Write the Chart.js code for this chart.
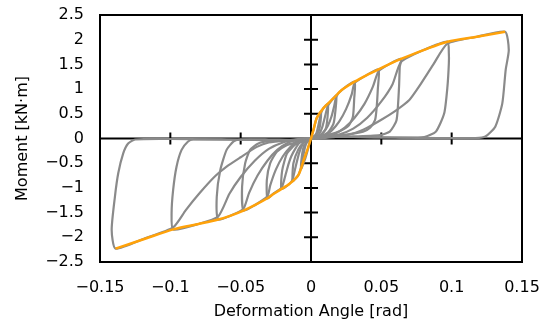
<!DOCTYPE html>
<html>
<head>
<meta charset="utf-8">
<script src="https://cdn.jsdelivr.net/npm/chart.js@4.4.1/dist/chart.umd.min.js"></script>
<style>
  html, body { margin: 0; padding: 0; background: #fff; }
  #wrap { width: 544px; height: 329px; }
</style>
</head>
<body>
<div id="wrap"><canvas id="momentChart" width="544" height="329"></canvas></div>
<script>
/* --- Axis config --- */
const X_MIN = -0.15, X_MAX = 0.15, X_STEP = 0.05;
const Y_MIN = -2.5, Y_MAX = 2.5, Y_STEP = 0.5;
const X_TITLE = 'Deformation Angle [rad]';
const Y_TITLE = 'Moment [kN·m]';
const FONT = 'DejaVu Sans';
const FONT_SIZE = 16;

/* --- Hysteresis loops [angle, moment] --- */
const loop1 = [
  [0,0],[0.002,0.2],[0.004,0.41],[0.007,0.54],
  [0.0068,0.35],[0.0055,0.15],[0.003,0.06],[0,0.02],
  [-0.002,-0.2],[-0.0045,-0.44],[-0.007,-0.61],
  [-0.0066,-0.38],[-0.005,-0.15],[-0.002,-0.04],[0,0]
];
const loop2 = [
  [0,0],[0.002,0.03],[0.004,0.12],[0.0055,0.3],[0.007,0.5],[0.0087,0.61],[0.012,0.70],
  [0.0118,0.45],[0.0105,0.2],[0.007,0.07],[0.003,0.03],[0,0.01],
  [-0.002,-0.04],[-0.004,-0.15],[-0.0055,-0.35],[-0.007,-0.57],[-0.009,-0.74],[-0.013,-0.86],
  [-0.0125,-0.5],[-0.009,-0.22],[-0.005,-0.07],[-0.002,-0.03],[0,0]
];
const loop3 = [
  [0,0],[0.003,0.03],[0.006,0.1],[0.008,0.23],[0.010,0.45],[0.012,0.66],[0.0158,0.81],[0.018,0.87],
  [0.0175,0.6],[0.016,0.3],[0.012,0.12],[0.007,0.05],[0.002,0.03],[0,0.01],
  [-0.003,-0.03],[-0.006,-0.12],[-0.0085,-0.3],[-0.011,-0.58],[-0.013,-0.82],[-0.015,-0.91],[-0.021,-1.02],
  [-0.0205,-0.65],[-0.017,-0.3],[-0.011,-0.12],[-0.005,-0.05],[0,-0.01]
];
const loop4 = [
  [0,-0.01],[0.003,0.01],[0.006,0.05],[0.009,0.13],[0.012,0.26],[0.0145,0.44],[0.0165,0.66],[0.018,0.85],[0.0218,0.98],[0.031,1.15],
  [0.0307,0.8],[0.0298,0.44],[0.027,0.27],[0.0206,0.15],[0.013,0.08],[0.005,0.04],[0,0.01],
  [-0.004,-0.02],[-0.008,-0.08],[-0.011,-0.2],[-0.014,-0.36],[-0.016,-0.52],[-0.0185,-0.78],[-0.021,-1.0],[-0.027,-1.12],[-0.031,-1.21],
  [-0.0314,-0.84],[-0.029,-0.50],[-0.0243,-0.27],[-0.017,-0.13],[-0.0103,-0.08],[-0.004,-0.04],[0,-0.01]
];
const loop5 = [
  [0,-0.01],[0.005,0.02],[0.01,0.06],[0.015,0.17],[0.02,0.34],[0.025,0.6],[0.029,0.9],[0.031,1.12],[0.040,1.29],[0.048,1.40],
  [0.0475,1.0],[0.0466,0.60],[0.0455,0.37],[0.042,0.22],[0.037,0.14],[0.025,0.08],[0.01,0.05],[0,0.01],
  [-0.005,-0.02],[-0.01,-0.06],[-0.015,-0.18],[-0.02,-0.36],[-0.025,-0.63],[-0.029,-0.95],[-0.031,-1.17],[-0.040,-1.35],[-0.048,-1.46],
  [-0.049,-0.98],[-0.0468,-0.50],[-0.0433,-0.23],[-0.0374,-0.10],[-0.029,-0.05],[-0.015,-0.04],[0,-0.01]
];
const loop6 = [
  [0,-0.01],[0.008,0.02],[0.016,0.08],[0.024,0.22],[0.031,0.42],[0.038,0.7],[0.044,1.05],[0.048,1.36],[0.056,1.51],[0.064,1.61],
  [0.0631,1.45],[0.0626,1.05],[0.0608,0.37],[0.056,0.14],[0.049,0.07],[0.0277,0.04],[0.01,0.03],[0,0.01],
  [-0.008,-0.02],[-0.016,-0.08],[-0.024,-0.23],[-0.031,-0.45],[-0.038,-0.75],[-0.044,-1.1],[-0.048,-1.42],[-0.057,-1.56],[-0.066,-1.64],
  [-0.067,-1.18],[-0.0645,-0.64],[-0.060,-0.23],[-0.055,-0.06],[-0.050,-0.02],[-0.03,-0.02],[-0.01,-0.03],[0,-0.01]
];
const loop7 = [
  [0,-0.01],[0.01,0.02],[0.02,0.08],[0.03,0.2],[0.04,0.42],[0.05,0.75],[0.058,1.1],[0.064,1.55],[0.08,1.79],[0.097,1.96],
  [0.098,1.72],[0.098,1.52],[0.097,1.05],[0.0947,0.51],[0.0888,0.14],[0.0805,0.03],[0.06,0.02],[0.03,0.03],[0.01,0.03],[0,0.01],
  [-0.01,-0.02],[-0.02,-0.08],[-0.03,-0.21],[-0.04,-0.45],[-0.05,-0.78],[-0.058,-1.12],[-0.066,-1.58],[-0.08,-1.73],[-0.098,-1.84],
  [-0.0991,-1.51],[-0.098,-1.04],[-0.0956,-0.57],[-0.092,-0.23],[-0.0874,-0.06],[-0.0838,-0.02],[-0.06,-0.02],[-0.03,-0.03],[-0.01,-0.03],[0,-0.01]
];
const loop8 = [
  [0,-0.01],[0.01,0.01],[0.02,0.04],[0.03,0.1],[0.04,0.22],[0.05,0.38],[0.06,0.56],[0.0699,0.78],[0.077,1.06],[0.087,1.5],[0.097,1.92],[0.118,2.06],[0.138,2.16],
  [0.1406,1.79],[0.1384,1.39],[0.136,0.71],[0.131,0.24],[0.124,0.04],[0.117,0.01],[0.09,0.01],[0.06,0.02],[0.03,0.03],[0.01,0.03],[0,0.01],
  [-0.015,-0.03],[-0.03,-0.08],[-0.0385,-0.17],[-0.05,-0.38],[-0.06,-0.57],[-0.0684,-0.77],[-0.079,-1.1],[-0.089,-1.45],[-0.098,-1.8],[-0.118,-2.02],[-0.139,-2.23],
  [-0.1417,-1.85],[-0.1394,-1.18],[-0.137,-0.70],[-0.1335,-0.30],[-0.130,-0.10],[-0.125,-0.02],[-0.10,-0.01],[-0.07,-0.02],[-0.04,-0.03],[-0.015,-0.04],[0,-0.01]
];
const loops = [loop1, loop2, loop3, loop4, loop5, loop6, loop7, loop8];

/* --- Skeleton (envelope) curve --- */
const skeleton = [
  [-0.139,-2.23],[-0.118,-2.03],[-0.098,-1.84],[-0.08,-1.73],[-0.066,-1.64],[-0.057,-1.56],[-0.048,-1.46],
  [-0.040,-1.35],[-0.031,-1.21],[-0.027,-1.13],[-0.022,-1.04],[-0.015,-0.91],[-0.009,-0.74],[-0.005,-0.42],
  [-0.002,-0.18],[0,0],[0.002,0.2],[0.004,0.41],[0.0087,0.61],[0.0158,0.81],[0.0218,0.98],[0.031,1.15],
  [0.040,1.29],[0.048,1.40],[0.056,1.51],[0.064,1.61],[0.08,1.79],[0.097,1.96],[0.118,2.06],[0.138,2.16]
];

/* --- Colours --- */
const GRAY = '#8a8a8a';
const ORANGE = '#ffa20a';

/* --- Label helper: real minus sign, no float noise --- */
function fmt(v){
  const r = Math.round(v * 100) / 100;
  return String(r).replace('-', '\u2212');
}

/* --- Fixed plot box: drop the extra label padding chart.js adds --- */
function noPad(s){
  s.paddingLeft = 0; s.paddingRight = 0;
  s.paddingTop = 0; s.paddingBottom = 0;
}

/* --- Plugin: frame + zero axes with cross ticks --- */
const zeroAxesPlugin = {
  id: 'zeroAxes',
  beforeDatasetsDraw(chart){
    const { ctx, chartArea: { left, right, top, bottom }, scales: { x, y } } = chart;
    const x0 = x.getPixelForValue(0);
    const y0 = y.getPixelForValue(0);
    ctx.save();
    ctx.strokeStyle = '#000';
    ctx.lineWidth = 2;
    ctx.beginPath();
    ctx.moveTo(left, y0); ctx.lineTo(right, y0);
    ctx.moveTo(x0, top); ctx.lineTo(x0, bottom);
    // cross ticks on the zero axes
    x.ticks.forEach(t => {
      if (t.value === 0 || Math.abs(t.value) > X_MAX - 0.01) return;
      const px = x.getPixelForValue(t.value);
      ctx.moveTo(px, y0 - 6); ctx.lineTo(px, y0 + 6);
    });
    y.ticks.forEach(t => {
      if (t.value === 0 || Math.abs(t.value) > Y_MAX - 0.1) return;
      const py = y.getPixelForValue(t.value);
      ctx.moveTo(x0 - 7, py); ctx.lineTo(x0 + 7, py);
    });
    ctx.stroke();
    ctx.strokeRect(left, top, right - left, bottom - top);
    ctx.restore();
  }
};

/* --- Datasets --- */
const datasets = [{
  data: skeleton,
  borderColor: ORANGE,
  borderWidth: 2.5,
  pointRadius: 0,
  showLine: true,
  tension: 0.3,
  order: 0
}];
loops.forEach(l => datasets.push({
  data: l,
  borderColor: GRAY,
  borderWidth: 2.2,
  pointRadius: 0,
  showLine: true,
  tension: 0.2,
  order: 1
}));

/* --- Chart --- */
const chart = new Chart(document.getElementById('momentChart'), {
  type: 'scatter',
  data: { datasets },
  options: {
    responsive: false,
    animation: false,
    devicePixelRatio: 1,
    layout: { padding: { left: 0, top: 15, right: 22, bottom: 0 } },
    plugins: { legend: { display: false }, tooltip: { enabled: false } },
    scales: {
      x: {
        type: 'linear',
        min: X_MIN, max: X_MAX,
        afterFit: s => { s.height = 67; noPad(s); },
        grid: { display: false, drawTicks: false },
        border: { display: false },
        ticks: {
          stepSize: X_STEP,
          color: '#000',
          padding: 16,
          maxRotation: 0,
          font: { family: FONT, size: FONT_SIZE },
          callback: v => fmt(v)
        },
        title: {
          display: true,
          text: X_TITLE,
          color: '#000',
          font: { family: FONT, size: FONT_SIZE },
          padding: { top: 0, bottom: 8 }
        }
      },
      y: {
        type: 'linear',
        min: Y_MIN, max: Y_MAX,
        afterFit: s => { s.width = 100; noPad(s); },
        grid: { display: false, drawTicks: false },
        border: { display: false },
        ticks: {
          stepSize: Y_STEP,
          color: '#000',
          padding: 16,
          font: { family: FONT, size: FONT_SIZE },
          callback: v => fmt(v)
        },
        title: {
          display: true,
          text: Y_TITLE,
          color: '#000',
          font: { family: FONT, size: FONT_SIZE },
          padding: { top: 13, bottom: 0 }
        }
      }
    }
  },
  plugins: [zeroAxesPlugin]
});
</script>
</body>
</html>
